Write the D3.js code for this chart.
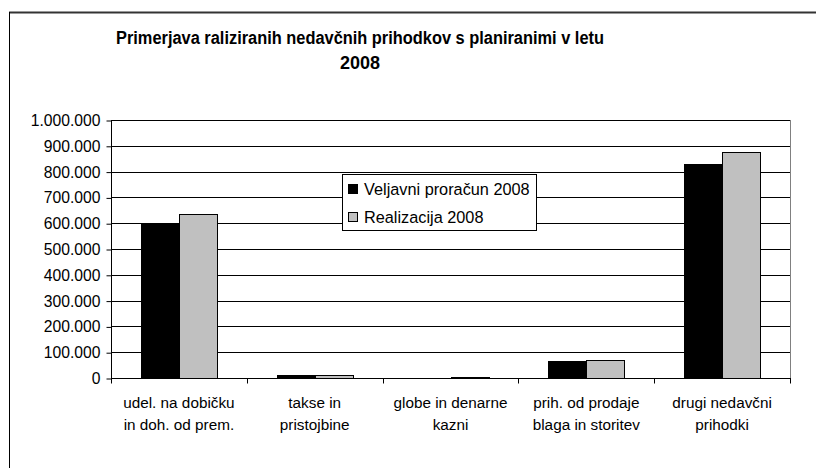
<!DOCTYPE html>
<html><head><meta charset="utf-8">
<script src="https://cdn.jsdelivr.net/npm/d3@7"></script>
<style>body{margin:0;background:#fff}svg{display:block}text{font-family:"Liberation Sans",Arial,sans-serif}</style>
</head><body><svg id="c" width="816" height="468"></svg>
<script>
const categories = [["udel. na dobičku","in doh. od prem."],["takse in","pristojbine"],["globe in denarne","kazni"],["prih. od prodaje","blaga in storitev"],["drugi nedavčni","prihodki"]];
const budget = [597000, 13000, 0, 65000, 828000];
const realized = [634000, 13000, 4000, 69000, 877000];
const seriesNames = ["Veljavni proračun 2008","Realizacija 2008"];
const seriesColors = ["#000000","#c0c0c0"];
const yTicks = [0,100000,200000,300000,400000,500000,600000,700000,800000,900000,1000000];
const titleLines = ["Primerjava raliziranih nedavčnih prihodkov s planiranimi v letu","2008"];

const svg = d3.select("#c");
// outer border
svg.append("line").attr("x1",9).attr("x2",816).attr("y1",12.5).attr("y2",12.5).attr("stroke","#333").attr("stroke-width",2);
svg.append("line").attr("x1",9.5).attr("x2",9.5).attr("y1",12).attr("y2",468).attr("stroke","#000").attr("stroke-width",1);

const L=111, R=790, T=120, B=378;
const x = d3.scaleBand().domain(d3.range(categories.length)).range([L,R]);
const y = d3.scaleLinear().domain([0,1000000]).range([B,T]);
const fmt = v => d3.format(",")(v).replace(/,/g,".");

// gridlines
svg.append("g").selectAll("line").data(yTicks.filter(d=>d>0)).join("line")
  .attr("x1",L).attr("x2",R).attr("y1",d=>Math.round(y(d))+0.5).attr("y2",d=>Math.round(y(d))+0.5)
  .attr("stroke","#000").attr("stroke-width",1);
// right border of plot
svg.append("line").attr("x1",R+0.5).attr("x2",R+0.5).attr("y1",T).attr("y2",B).attr("stroke","#808080");

// bars
const inner = x.bandwidth()*0.28;
const groups = [budget, realized];
groups.forEach((vals,si)=>{
  svg.append("g").selectAll("rect").data(vals).join("rect")
    .attr("x",(d,i)=>Math.round(x(i)+x.bandwidth()/2 - inner + si*inner)+0.5)
    .attr("width",Math.round(inner))
    .attr("y",d=>Math.round(y(d))+0.5)
    .attr("height",d=>Math.max(0,Math.round(B-y(d))))
    .attr("fill",seriesColors[si]).attr("stroke","#000").attr("stroke-width",1);
});

// y axis
const ya = svg.append("g").attr("transform",`translate(${L+0.5},0.5)`)
  .call(d3.axisLeft(y).tickValues(yTicks).tickFormat(fmt).tickSize(5).tickPadding(6));
ya.selectAll("line,path").attr("stroke","#000");
ya.select(".domain").attr("d",`M0,${T}V${B}`);
ya.selectAll("text").attr("font-size",15.7).attr("font-family","Liberation Sans, Arial").attr("fill","#000");

// x axis
const xa = svg.append("g").attr("transform",`translate(0,${B+0.5})`);
xa.append("line").attr("x1",L).attr("x2",R+1).attr("stroke","#000");
xa.selectAll(".tk").data(d3.range(categories.length+1)).join("line")
  .attr("x1",i=>Math.round(L+i*x.step())+0.5).attr("x2",i=>Math.round(L+i*x.step())+0.5)
  .attr("y1",0).attr("y2",5).attr("stroke","#000");
const lab = svg.append("g").selectAll("text").data(categories).join("text")
  .attr("text-anchor","middle").attr("font-size",15.3).attr("fill","#000");
lab.each(function(d,i){
  d.forEach((s,j)=>d3.select(this).append("tspan").attr("x",x(i)+x.bandwidth()/2).attr("y",408+j*22).text(s));
});

// title
svg.append("g").selectAll("text").data(titleLines).join("text")
  .attr("x",360).attr("y",(d,i)=>44+i*25).attr("text-anchor","middle")
  .attr("font-size",18).attr("font-weight","bold").attr("fill","#000").text(d=>d)
  .each(function(d,i){ if(i===0){ d3.select(this).attr("textLength",488).attr("lengthAdjust","spacingAndGlyphs"); } });

// legend
const lg = svg.append("g");
lg.append("rect").attr("x",342.5).attr("y",174.5).attr("width",194).attr("height",56).attr("fill","#fff").attr("stroke","#000");
seriesNames.forEach((n,i)=>{
  const cy = 189 + i*28;
  lg.append("rect").attr("x",348.5).attr("y",cy-4.5).attr("width",9).attr("height",9).attr("fill",seriesColors[i]).attr("stroke","#000");
  lg.append("text").attr("x",364).attr("y",cy+6).attr("font-size",16.3).attr("fill","#000").text(n);
});
</script></body></html>
